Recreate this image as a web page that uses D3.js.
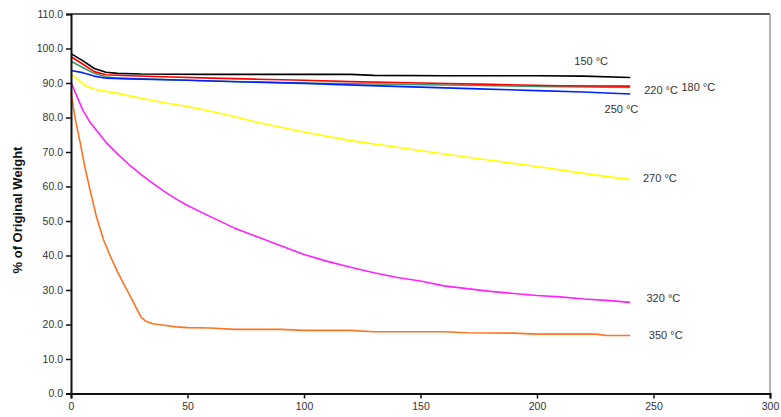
<!DOCTYPE html>
<html>
<head>
<meta charset="utf-8">
<script src="https://cdn.jsdelivr.net/npm/d3@7"></script>
<style>
body { margin: 0; background: #fff; }
text { font-family: "Liberation Sans", Arial, sans-serif; }
</style>
</head>
<body>
<div id="vis-svg"></div>
<script>
var w = 781;
var h = 417;

// series: [time, % weight]
var s150 = [[0,98.5],[5,96.5],[10,94.2],[15,93.1],[20,92.8],[30,92.6],[60,92.5],[90,92.5],[120,92.5],[130,92.2],[160,92.1],[200,92.1],[220,92],[240,91.6]];
var s180 = [[0,96.3],[5,94.5],[10,92.8],[15,91.8],[20,91.4],[40,91],[60,90.6],[80,90.3],[100,90],[130,89.7],[160,89.4],[200,89],[240,88.7]];
var s220 = [[0,97.6],[5,95.5],[10,93.3],[15,92.4],[25,92.1],[40,91.8],[60,91.4],[80,91.1],[100,90.8],[120,90.4],[150,90],[180,89.6],[210,89.2],[240,89.1]];
var s250 = [[0,93.6],[5,93],[10,92],[15,91.4],[25,91.2],[50,90.8],[75,90.3],[100,89.9],[125,89.3],[150,88.8],[175,88.3],[200,87.8],[220,87.4],[240,86.8]];
var s270 = [[0,92.5],[3,91],[6,89.3],[10,88.2],[20,87],[30,85.6],[40,84.3],[50,83.2],[60,81.8],[70,80.3],[80,78.6],[90,77.2],[100,75.8],[120,73.3],[140,71.4],[160,69.4],[180,67.6],[200,65.8],[220,63.8],[240,62]];
var s320 = [[0,90.2],[2,87],[5,82.2],[8,78.8],[11,76.2],[15,72.8],[20,69.4],[25,66.3],[30,63.5],[35,61],[40,58.6],[45,56.4],[50,54.5],[60,51.2],[70,48],[80,45.4],[90,42.8],[100,40.3],[110,38.3],[120,36.6],[130,35],[140,33.6],[150,32.6],[160,31.2],[170,30.4],[180,29.6],[190,29],[200,28.4],[210,28],[220,27.4],[230,27],[240,26.4]];
var s350 = [[0,87.5],[1,83],[2,79],[4,72.5],[6,65.5],[8,59.5],[11,51],[14,44.5],[17,39.6],[20,35.2],[23,31.3],[26,27.5],[28,24.8],[30,22.2],[32,21],[35,20.2],[40,19.8],[45,19.3],[50,19.1],[60,19],[70,18.6],[90,18.6],[100,18.3],[120,18.3],[130,17.9],[160,17.9],[170,17.6],[190,17.5],[200,17.2],[225,17.2],[230,16.8],[240,16.8]];

var names = ["150 °C", "180 °C", "220 °C", "250 °C", "270 °C", "320 °C", "350 °C"];
var seriesList = [s150, s180, s220, s250, s270, s320, s350];
var colors = ["#000000", "#3a9a6a", "#ff0000", "#0022ff", "#ffff00", "#ff22ff", "#ff7422"];
// label anchor points (data coords)
var labelPos = [[216,96.2],[262,88.7],[246,87.8],[229,82.4],[245.5,62.5],[247,27.5],[248,16.8]];

var xTicks = [0, 50, 100, 150, 200, 250, 300];
var yTicks = [0, 10, 20, 30, 40, 50, 60, 70, 80, 90, 100, 110];

var canvas = d3.select("#vis-svg").append("svg")
    .attr("width", w)
    .attr("height", h);

var x = d3.scaleLinear().domain([0, 300]).range([71, 770]);
var y = d3.scaleLinear().domain([0, 110]).range([393.5, 14]);

// frame top and right
canvas.append("line")
    .attr("x1", x(0)).attr("x2", x(300))
    .attr("y1", y(110)).attr("y2", y(110))
    .attr("stroke", "#222").attr("stroke-width", 1.5);
canvas.append("line")
    .attr("x1", x(300)).attr("x2", x(300))
    .attr("y1", y(110)).attr("y2", y(0))
    .attr("stroke", "#999").attr("stroke-width", 1.5);

var line = d3.line()
    .x(d => x(d[0]))
    .y(d => y(d[1]));

seriesList.forEach(function(s, i) {
    canvas.append("path")
        .datum(s)
        .attr("d", line)
        .attr("fill", "none")
        .attr("stroke", colors[i])
        .attr("stroke-width", 1.6)
        .attr("stroke-linejoin", "round");
});

var xAxis = canvas.append("g")
    .attr("transform", "translate(0," + y(0) + ")")
    .call(d3.axisBottom(x).tickValues(xTicks).tickSize(5).tickPadding(4).tickFormat(d3.format("d")));
var yAxis = canvas.append("g")
    .attr("transform", "translate(" + x(0) + ",0)")
    .call(d3.axisLeft(y).tickValues(yTicks).tickSize(5).tickPadding(3).tickFormat(d3.format(".1f")));

[xAxis, yAxis].forEach(function(a) {
    a.select(".domain").attr("stroke", "#111").attr("stroke-width", 2);
    a.selectAll(".tick line").attr("stroke", "#111").attr("stroke-width", 1.5);
    a.selectAll(".tick text")
        .attr("fill", "#333")
        .style("font-size", "10.5px")
        .style("font-family", "Liberation Sans, Arial, sans-serif");
});

canvas.selectAll(".serieslabel")
    .data(names)
    .enter()
    .append("text")
    .attr("class", "serieslabel")
    .attr("x", (d, i) => x(labelPos[i][0]))
    .attr("y", (d, i) => y(labelPos[i][1]))
    .attr("dy", "0.35em")
    .attr("fill", "#333")
    .style("font-size", "11px")
    .text(d => d);

canvas.append("text")
    .attr("transform", "translate(22,210) rotate(-90)")
    .attr("text-anchor", "middle")
    .attr("fill", "#111")
    .style("font-size", "13px")
    .style("font-weight", "bold")
    .text("% of Original Weight");
</script>
</body>
</html>
